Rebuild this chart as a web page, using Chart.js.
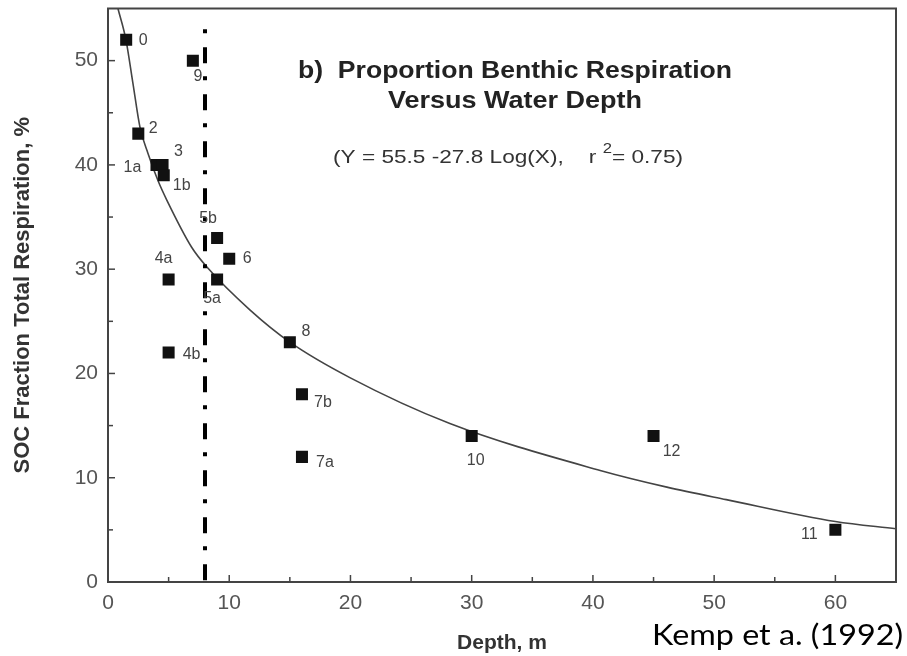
<!DOCTYPE html>
<html><head><meta charset="utf-8">
<script src="https://cdn.jsdelivr.net/npm/chart.js@4/dist/chart.umd.min.js"></script>
<style>html,body{margin:0;padding:0;background:#fff}canvas{display:block}</style>
</head><body>
<canvas id="c" width="907" height="656"></canvas>
<script>
// ---- data ----
const siteLabels = ['0','9','2','1a','3','1b','4a','4b','5b','5a','6','8','7b','7a','10','12','11'];
const depthM     = [1.5, 7, 2.5, 4.0, 4.5, 4.6, 5, 5, 9, 9, 10, 15, 16, 16, 30, 45, 60];
const socPct     = [52, 50, 43, 40, 40, 39, 29, 22, 33, 29, 31, 23, 18, 12, 14, 14, 5];
// fitted curve
const curveDepth = [0.82, 1.48, 2.06, 2.64, 3.3, 4.12, 4.86, 6.9, 8.16, 11.7, 15, 19.95, 28.2, 40.6, 46.1, 51, 60, 65];
const curveSoc   = [55.0, 52.0, 47.8, 43.6, 41.1, 38.5, 36.6, 32.1, 30.2, 26.1, 23.0, 19.6, 15.2, 10.7, 9.1, 7.9, 5.8, 5.1];
// vertical dash-dot marker
const cutoffDepth = [8, 8];
const cutoffSoc   = [53, 0];
const titleLines = ['b)  Proportion Benthic Respiration', 'Versus Water Depth'];
const equationText = ['(Y = 55.5 -27.8 Log(X),    r', '2', '= 0.75)'];
const creditText = 'Kemp et a. (1992)';
const xAxisTitle = 'Depth, m';
const yAxisTitle = 'SOC Fraction Total Respiration, %';

// ---- styling (label offsets in px) ----
const labelOffsets = [[17,1],[5,16],[15,-5],[-24,3],[16,-13],[18,10],[-5,-21],[23,2],[-9,-19],[-5,19],[18,0],[16,-11],[21,8],[23,6],[4,25],[18,16],[-26,5]];

function toXY(xs, ys){ return xs.map((x,i)=>({x:x, y:ys[i]})); }

function drawFitted(ctx, parts, left, y, targetW){
  let w = 0;
  parts.forEach(p => { ctx.font = p.font; p.w = ctx.measureText(p.t).width; w += p.w; });
  const s = targetW / w;
  ctx.save();
  ctx.translate(left, y);
  ctx.scale(s, 1);
  ctx.textBaseline = 'middle';
  ctx.textAlign = 'left';
  let x = 0;
  parts.forEach(p => { ctx.font = p.font; ctx.fillStyle = p.color; ctx.fillText(p.t, x, p.dy || 0); x += p.w; });
  ctx.restore();
}

const decor = {
  id: 'decor',
  afterDatasetsDraw(chart){
    const ctx = chart.ctx, a = chart.chartArea;
    const xs = chart.scales.x, ys = chart.scales.y;
    ctx.save();
    // frame
    ctx.strokeStyle = '#444'; ctx.lineWidth = 2;
    ctx.strokeRect(a.left, a.top, a.right - a.left, a.bottom - a.top);
    // inward ticks
    ctx.lineWidth = 1.5; ctx.strokeStyle = '#444';
    for (let v = 5; v < 65; v += 5){
      const px = xs.getPixelForValue(v), len = v % 10 === 0 ? 7 : 5;
      ctx.beginPath(); ctx.moveTo(px, a.bottom); ctx.lineTo(px, a.bottom - len); ctx.stroke();
    }
    for (let v = 5; v < 55; v += 5){
      const py = ys.getPixelForValue(v), len = v % 10 === 0 ? 7 : 5;
      ctx.beginPath(); ctx.moveTo(a.left, py); ctx.lineTo(a.left + len, py); ctx.stroke();
    }
    // point labels
    ctx.font = '16px "Liberation Sans", Arial, sans-serif';
    ctx.fillStyle = '#444'; ctx.textAlign = 'center'; ctx.textBaseline = 'middle';
    siteLabels.forEach((lab, i) => {
      const px = xs.getPixelForValue(depthM[i]), py = ys.getPixelForValue(socPct[i]);
      ctx.fillText(lab, px + labelOffsets[i][0], py + labelOffsets[i][1]);
    });
    // title
    const tf = 'bold 23px "Liberation Sans", Arial, sans-serif';
    drawFitted(ctx, [{t: titleLines[0], font: tf, color: '#222'}], 298, 72, 434);
    drawFitted(ctx, [{t: titleLines[1], font: tf, color: '#222'}], 388, 102, 254);
    const ef = '19px "Liberation Sans", Arial, sans-serif';
    drawFitted(ctx, [
      {t: equationText[0], font: ef, color: '#333'},
      {t: ' ', font: ef, color: '#333'},
      {t: equationText[1], font: '14px "Liberation Sans", Arial, sans-serif', color: '#333', dy: -9},
      {t: equationText[2], font: ef, color: '#333'}
    ], 333, 158, 350);
    ctx.restore();
  },
  afterDraw(chart){
    const ctx = chart.ctx;
    drawFitted(ctx, [{t: creditText, font: '28px Lato, "Open Sans", sans-serif', color: '#000'}], 652, 636, 251);
  }
};

new Chart(document.getElementById('c'), {
  type: 'scatter',
  data: {
    datasets: [
      {
        label: 'sites',
        data: toXY(depthM, socPct),
        pointStyle: 'rect',
        pointRadius: 8.5,
        pointHoverRadius: 8.5,
        backgroundColor: '#111',
        borderWidth: 0,
        order: 0
      },
      {
        label: 'fit',
        data: toXY(curveDepth, curveSoc),
        showLine: true,
        borderColor: '#444',
        borderWidth: 1.6,
        pointRadius: 0,
        cubicInterpolationMode: 'monotone',
        clip: 0,
        order: 2
      },
      {
        label: 'cutoff',
        data: toXY(cutoffDepth, cutoffSoc),
        showLine: true,
        borderColor: '#000',
        borderWidth: 4,
        borderDash: [4, 14, 16, 13],
        borderCapStyle: 'butt',
        pointRadius: 0,
        order: 1
      }
    ]
  },
  options: {
    responsive: false,
    animation: false,
    events: [],
    layout: { padding: { top: 8, right: 11, left: 0, bottom: 0 } },
    plugins: { legend: { display: false }, tooltip: { enabled: false } },
    scales: {
      x: {
        type: 'linear', min: 0, max: 65,
        afterFit: s => { s.height = 74; s.paddingLeft = 0; s.paddingRight = 0; },
        grid: { display: false, drawTicks: false },
        border: { display: true, color: '#444', width: 2 },
        ticks: { stepSize: 10, includeBounds: false, padding: 9, color: '#555',
                 font: { family: '"Liberation Sans", Arial, sans-serif', size: 21 } },
        title: { display: true, text: xAxisTitle, color: '#333', padding: { top: 0, bottom: 0 },
                 font: { family: '"Liberation Sans", Arial, sans-serif', size: 21, weight: 'bold' } }
      },
      y: {
        type: 'linear', min: 0, max: 55,
        afterFit: s => { s.width = 108; s.paddingTop = 0; s.paddingBottom = 0; },
        grid: { display: false, drawTicks: false },
        border: { display: true, color: '#444', width: 2 },
        ticks: { stepSize: 10, includeBounds: false, padding: 10, color: '#555',
                 font: { family: '"Liberation Sans", Arial, sans-serif', size: 21 } },
        title: { display: true, text: yAxisTitle, color: '#333', padding: { top: 10, bottom: 0 },
                 font: { family: '"Liberation Sans", Arial, sans-serif', size: 22, weight: 'bold' } }
      }
    }
  },
  plugins: [decor]
});
</script>
</body></html>
